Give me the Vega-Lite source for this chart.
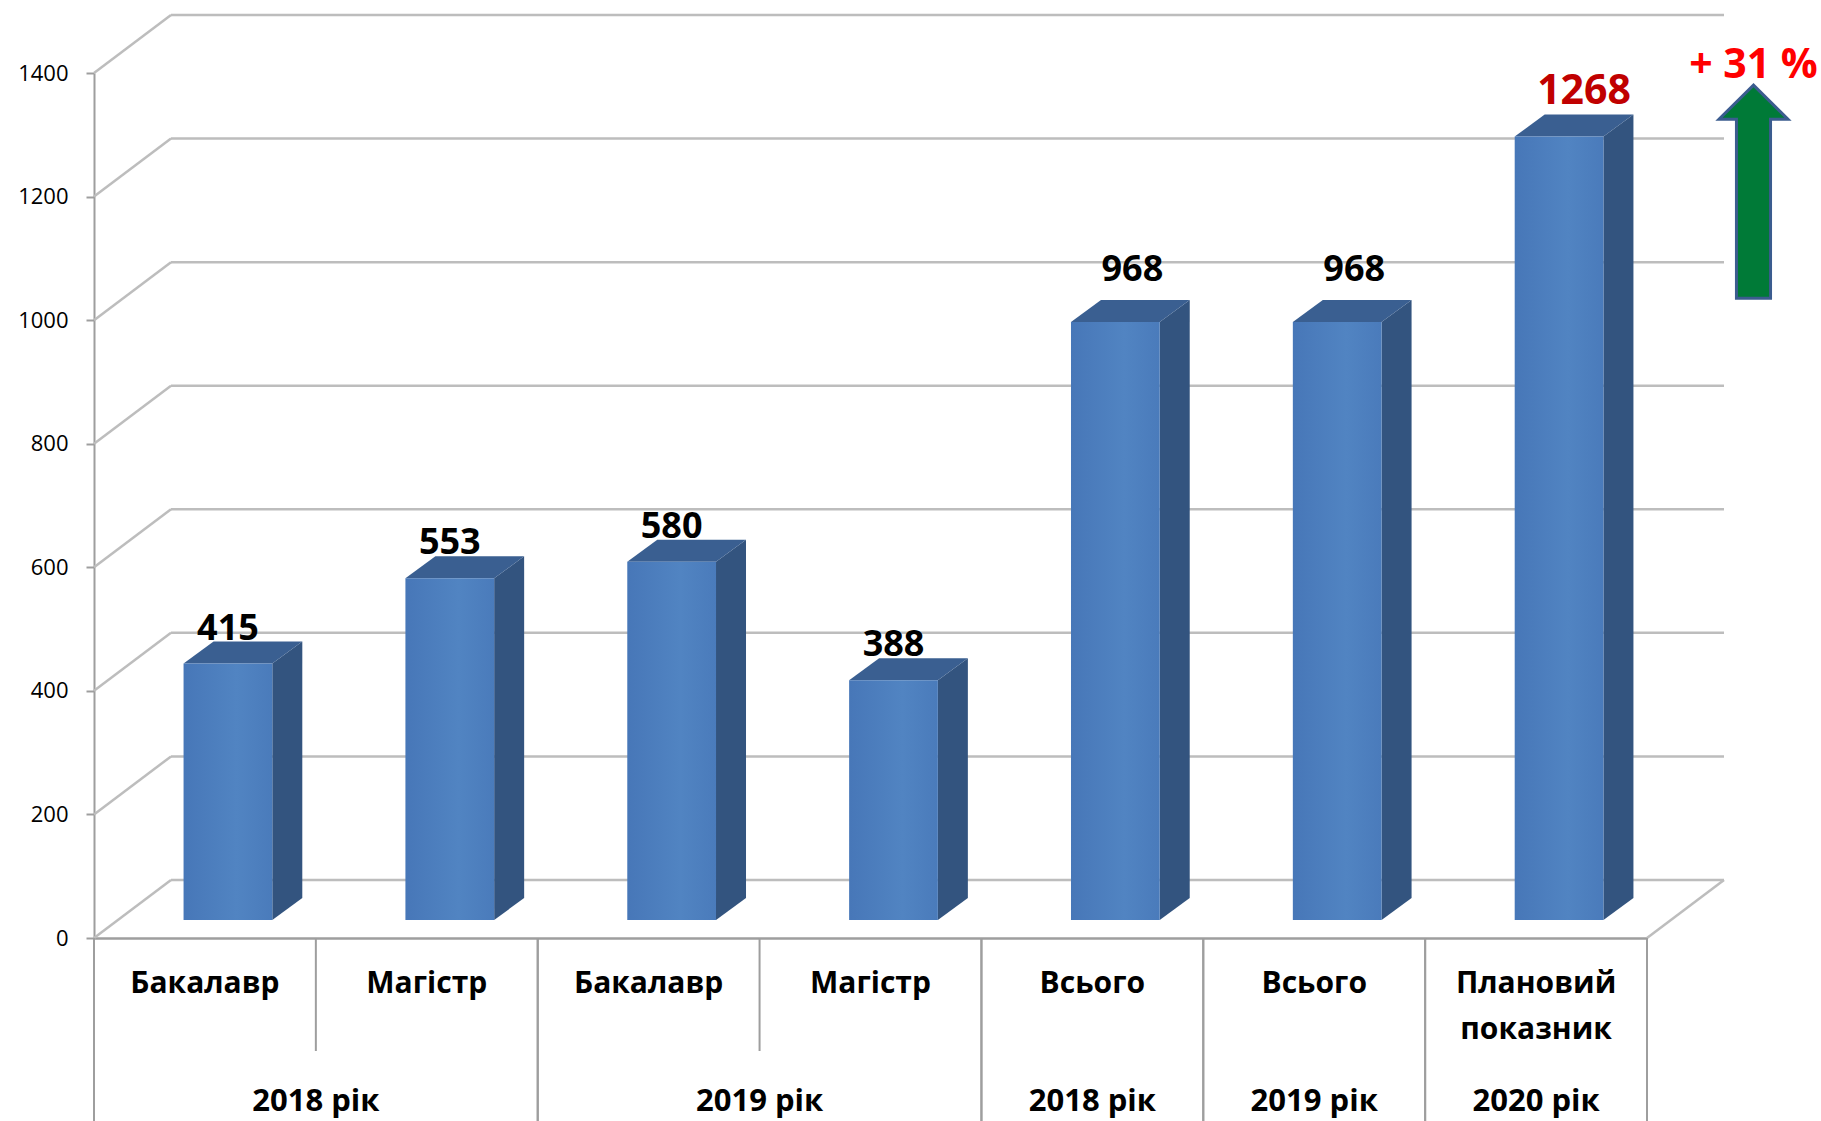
{
  "$schema": "https://vega.github.io/schema/vega-lite/v6.json",
  "width": 1553,
  "height": 865,
  "autosize": {"type": "none"},
  "padding": {"left": 94, "top": 73, "right": 174, "bottom": 183},
  "background": "white",
  "config": {
    "view": {"stroke": null},
    "font": "Open Sans",
    "axisY": {"grid": false, "domainColor": "#9E9E9E", "domainWidth": 2, "tickColor": "#9E9E9E", "tickWidth": 2, "tickSize": 8, "labelFont": "Open Sans", "labelFontSize": 22, "labelColor": "#000000", "labelPadding": 18, "tickCount": 8, "format": "d", "title": null},
    "axisX": {"grid": false, "labels": false, "ticks": false, "domainColor": "#9E9E9E", "domainWidth": 2.5, "title": null}
  },
  "datasets": {
    "bars": [
      {"idx": 1, "label": "Бакалавр", "value": 415, "gid": "g1", "year": "2018 рік"},
      {"idx": 2, "label": "Магістр", "value": 553, "gid": "g1", "year": "2018 рік"},
      {"idx": 3, "label": "Бакалавр", "value": 580, "gid": "g2", "year": "2019 рік"},
      {"idx": 4, "label": "Магістр", "value": 388, "gid": "g2", "year": "2019 рік"},
      {"idx": 5, "label": "Всього", "value": 968, "gid": "g3", "year": "2018 рік"},
      {"idx": 6, "label": "Всього", "value": 968, "gid": "g4", "year": "2019 рік"},
      {"idx": 7, "label": "Плановий показник", "value": 1268, "gid": "g5", "year": "2020 рік"}
    ],
    "grid": [{"v": 0}, {"v": 200}, {"v": 400}, {"v": 600}, {"v": 800}, {"v": 1000}, {"v": 1200}, {"v": 1400}]
  },
  "layer": [
    {
      "data": {"name": "grid"},
      "mark": {"type": "rule", "color": "#BDBDBD", "strokeWidth": 2.5, "xOffset": 77, "x2Offset": 77, "yOffset": -58},
      "encoding": {
        "x": {"datum": 0.5, "type": "quantitative", "scale": {"domain": [0.5, 7.5], "nice": false, "zero": false}, "title": null},
        "x2": {"datum": 7.5},
        "y": {"field": "v", "type": "quantitative", "scale": {"domain": [0, 1400], "nice": false}, "title": null}
      }
    },
    {
      "data": {"name": "grid"},
      "mark": {"type": "rule", "color": "#BDBDBD", "strokeWidth": 2.5, "x2Offset": 77, "y2Offset": -58},
      "encoding": {
        "x": {"datum": 0.5, "type": "quantitative", "title": null},
        "x2": {"datum": 0.5},
        "y": {"field": "v", "type": "quantitative", "title": null},
        "y2": {"field": "v"}
      }
    },
    {
      "data": {"name": "grid"},
      "transform": [{"filter": "datum.v == 0"}],
      "mark": {"type": "rule", "color": "#BDBDBD", "strokeWidth": 2.5, "x2Offset": 77, "y2Offset": -58},
      "encoding": {
        "x": {"datum": 7.5, "type": "quantitative", "title": null},
        "x2": {"datum": 7.5},
        "y": {"field": "v", "type": "quantitative", "title": null},
        "y2": {"field": "v"}
      }
    },
    {
      "data": {"name": "bars"},
      "transform": [
        {"calculate": "[0, 1]", "as": "k"},
        {"flatten": ["k"]},
        {"calculate": "datum.idx + 0.2 + datum.k * 0.1352", "as": "sx"},
        {"calculate": "datum.k * 35.6", "as": "sy"},
        {"calculate": "datum.value + datum.k * 35.6", "as": "sy2"}
      ],
      "mark": {"type": "area", "color": "#33547F", "xOffset": 23, "yOffset": -18, "y2Offset": -18},
      "encoding": {
        "x": {"field": "sx", "type": "quantitative", "title": null},
        "y": {"field": "sy2", "type": "quantitative", "title": null},
        "y2": {"field": "sy"},
        "detail": {"field": "idx", "type": "nominal"}
      }
    },
    {
      "data": {"name": "bars"},
      "transform": [
        {"calculate": "[0, 1]", "as": "k"},
        {"flatten": ["k"]},
        {"calculate": "datum.idx - 0.2 + datum.k * 0.1352", "as": "tx"},
        {"calculate": "datum.idx + 0.2 + datum.k * 0.1352", "as": "tx2"},
        {"calculate": "datum.value + datum.k * 35.6", "as": "ty"}
      ],
      "mark": {"type": "area", "orient": "horizontal", "color": "#3A5F91", "xOffset": 23, "x2Offset": 23, "yOffset": -18},
      "encoding": {
        "y": {"field": "ty", "type": "quantitative", "title": null},
        "x": {"field": "tx", "type": "quantitative", "title": null},
        "x2": {"field": "tx2"},
        "detail": {"field": "idx", "type": "nominal"}
      }
    },
    {
      "data": {"name": "bars"},
      "transform": [
        {"calculate": "datum.idx - 0.2", "as": "lo"},
        {"calculate": "datum.idx + 0.2", "as": "hi"}
      ],
      "mark": {"type": "rect", "xOffset": 23, "x2Offset": 23, "yOffset": -18, "y2Offset": -18,
        "fill": {"gradient": "linear", "x1": 0, "y1": 0, "x2": 1, "y2": 0, "stops": [{"offset": 0, "color": "#4777B8"}, {"offset": 0.6, "color": "#5184C2"}, {"offset": 1, "color": "#4A7BBB"}]}},
      "encoding": {
        "x": {"field": "lo", "type": "quantitative", "title": null},
        "x2": {"field": "hi"},
        "y": {"field": "value", "type": "quantitative", "title": null},
        "y2": {"datum": 0}
      }
    },
    {
      "data": {"name": "bars"},
      "transform": [{"filter": "datum.idx < 5"}],
      "mark": {"type": "text", "font": "Open Sans", "fontWeight": "bold", "fontSize": 36, "color": "#000000", "baseline": "alphabetic", "align": "center", "xOffset": 23, "yOffset": -42},
      "encoding": {
        "x": {"field": "idx", "type": "quantitative", "title": null},
        "y": {"field": "value", "type": "quantitative", "title": null},
        "text": {"field": "value", "type": "quantitative", "format": "d"}
      }
    },
    {
      "data": {"name": "bars"},
      "transform": [{"filter": "datum.idx == 5 || datum.idx == 6"}],
      "mark": {"type": "text", "font": "Open Sans", "fontWeight": "bold", "fontSize": 36, "color": "#000000", "baseline": "alphabetic", "align": "center", "xOffset": 40, "yOffset": -59},
      "encoding": {
        "x": {"field": "idx", "type": "quantitative", "title": null},
        "y": {"field": "value", "type": "quantitative", "title": null},
        "text": {"field": "value", "type": "quantitative", "format": "d"}
      }
    },
    {
      "data": {"name": "bars"},
      "transform": [{"filter": "datum.idx == 7"}],
      "mark": {"type": "text", "font": "Open Sans", "fontWeight": "bold", "fontSize": 41, "color": "#C00000", "baseline": "alphabetic", "align": "center", "xOffset": 48, "yOffset": -51},
      "encoding": {
        "x": {"field": "idx", "type": "quantitative", "title": null},
        "y": {"field": "value", "type": "quantitative", "title": null},
        "text": {"field": "value", "type": "quantitative", "format": "d"}
      }
    },
    {
      "data": {"name": "bars"},
      "transform": [{"calculate": "split(datum.label, ' ')", "as": "lines"}],
      "mark": {"type": "text", "font": "Open Sans", "fontWeight": "bold", "fontSize": 30, "color": "#000000", "baseline": "middle", "align": "center", "yOffset": 46, "lineHeight": 46},
      "encoding": {
        "x": {"field": "idx", "type": "quantitative", "title": null},
        "y": {"datum": 0, "type": "quantitative", "title": null},
        "text": {"field": "lines", "type": "nominal"}
      }
    },
    {
      "data": {"name": "bars"},
      "transform": [{"aggregate": [{"op": "mean", "field": "idx", "as": "center"}], "groupby": ["gid", "year"]}],
      "mark": {"type": "text", "font": "Open Sans", "fontWeight": "bold", "fontSize": 31, "color": "#000000", "baseline": "middle", "align": "center", "yOffset": 164},
      "encoding": {
        "x": {"field": "center", "type": "quantitative", "title": null},
        "y": {"datum": 0, "type": "quantitative", "title": null},
        "text": {"field": "year", "type": "nominal"}
      }
    },
    {
      "data": {"name": "bars"},
      "transform": [
        {"aggregate": [{"op": "min", "field": "idx", "as": "imin"}, {"op": "max", "field": "idx", "as": "imax"}], "groupby": ["gid"]},
        {"calculate": "datum.imin - 0.5", "as": "left"},
        {"calculate": "datum.imax + 0.5", "as": "right"},
        {"fold": ["left", "right"], "as": ["side", "pos"]}
      ],
      "mark": {"type": "rule", "color": "#9E9E9E", "strokeWidth": 2, "y2Offset": 183},
      "encoding": {
        "x": {"field": "pos", "type": "quantitative", "title": null},
        "y": {"datum": 0, "type": "quantitative", "title": null},
        "y2": {"datum": 0}
      }
    },
    {
      "data": {"name": "bars"},
      "transform": [
        {"joinaggregate": [{"op": "max", "field": "idx", "as": "gmax"}], "groupby": ["gid"]},
        {"filter": "datum.idx < datum.gmax"},
        {"calculate": "datum.idx + 0.5", "as": "pos"}
      ],
      "mark": {"type": "rule", "color": "#9E9E9E", "strokeWidth": 2, "y2Offset": 113},
      "encoding": {
        "x": {"field": "pos", "type": "quantitative", "title": null},
        "y": {"datum": 0, "type": "quantitative", "title": null},
        "y2": {"datum": 0}
      }
    },
    {
      "data": {"values": [{"note": "arrow"}]},
      "mark": {"type": "point", "filled": true, "fill": "#007A37", "fillOpacity": 1, "stroke": "#3B5C8F", "strokeWidth": 3, "strokeOpacity": 1, "size": 45369,
        "shape": "M0,-1L0.324,-0.68L0.16,-0.68L0.16,1L-0.16,1L-0.16,-0.68L-0.324,-0.68Z"},
      "encoding": {
        "x": {"datum": 7.98, "type": "quantitative", "title": null},
        "y": {"datum": 1208, "type": "quantitative", "title": null}
      }
    },
    {
      "data": {"values": [{"note": "+ 31 %"}]},
      "mark": {"type": "text", "font": "Open Sans", "fontWeight": "bold", "fontSize": 41, "color": "#FF0000", "baseline": "alphabetic", "align": "center"},
      "encoding": {
        "x": {"datum": 7.98, "type": "quantitative", "title": null},
        "y": {"datum": 1392, "type": "quantitative", "title": null},
        "text": {"field": "note", "type": "nominal"}
      }
    }
  ]
}
